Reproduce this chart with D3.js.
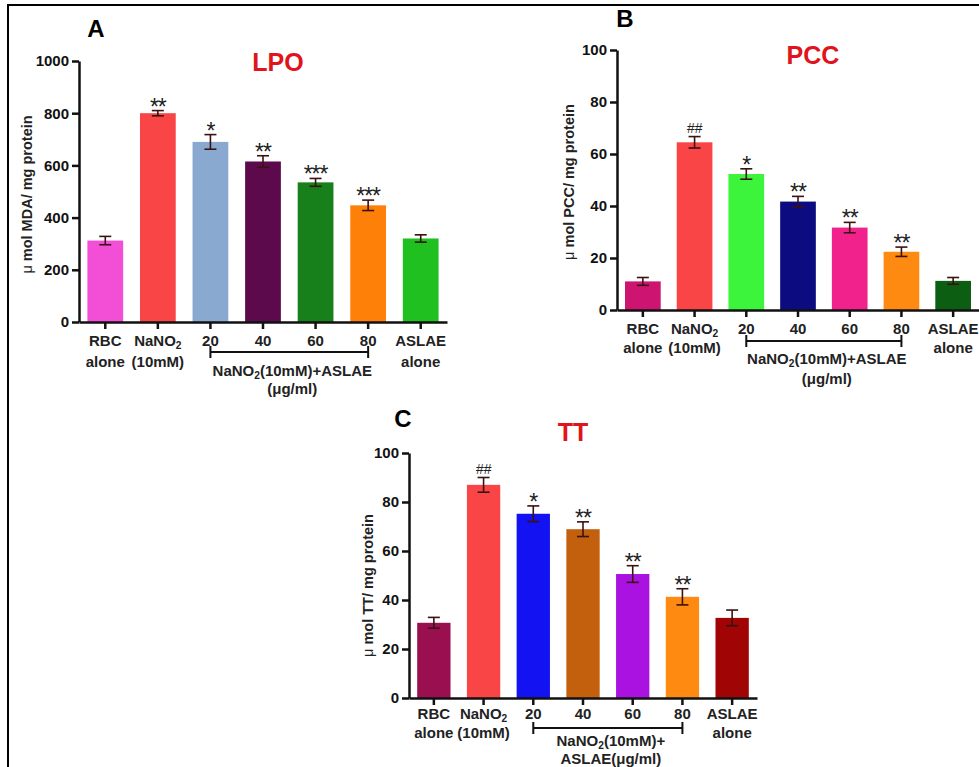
<!DOCTYPE html>
<html>
<head>
<meta charset="utf-8">
<script src="https://cdn.jsdelivr.net/npm/d3@7"></script>
<style>
  body { margin: 0; background: #fff; }
  svg { display: block; font-family: "Liberation Sans", Arial, sans-serif; }
  .axis path, .axis line { stroke: #111; stroke-width: 2.5; }
  .axis text { font-size: 15px; font-weight: bold; fill: #111; font-family: "Liberation Sans", Arial, sans-serif; }
</style>
</head>
<body>
<div id="chart"></div>
<script>
// Shared categories
const categories = ["RBC alone", "NaNO2 (10mM)", "20", "40", "60", "80", "ASLAE alone"];
const tickLines = [["RBC", "alone"], ["NaNO_2", "(10mM)"], ["20"], ["40"], ["60"], ["80"], ["ASLAE", "alone"]];

// A - LPO
const lpoValues = [312, 800, 690, 615, 535, 447, 320];
const lpoErrors = [16, 10, 28, 22, 15, 20, 14];
const lpoSig = ["", "**", "*", "**", "***", "***", ""];
const lpoColors = ["#f24fd6", "#f94545", "#8aa9d0", "#5c0a4c", "#18801a", "#ff8008", "#20c020"];
const lpoTicks = [0, 200, 400, 600, 800, 1000];

// B - PCC
const pccValues = [11, 64.5, 52.3, 41.7, 31.7, 22.4, 11.2];
const pccErrors = [1.5, 2.2, 2.0, 2.0, 2.0, 1.8, 1.3];
const pccSig = ["", "##", "*", "**", "**", "**", ""];
const pccColors = ["#cc1470", "#f94545", "#3cf43c", "#0c0c80", "#f2228c", "#ff8a12", "#0c5e12"];
const pccTicks = [0, 20, 40, 60, 80, 100];

// C - TT
const ttValues = [30.7, 87, 75.2, 68.9, 50.6, 41.3, 32.7];
const ttErrors = [2.2, 3.0, 3.2, 3.0, 3.4, 3.3, 3.2];
const ttSig = ["", "##", "*", "**", "**", "**", ""];
const ttColors = ["#9a0f50", "#f94545", "#1212f2", "#c2600e", "#aa12e2", "#ff8a12", "#a00404"];
const ttTicks = [0, 20, 40, 60, 80, 100];

const W = 979, H = 767;

const svg = d3.select("#chart").append("svg")
  .attr("width", W)
  .attr("height", H);

// frame lines (top + left only, rest is cropped)
svg.append("path")
  .attr("d", `M8,${H} L8,5 L${W},5`)
  .attr("fill", "none")
  .attr("stroke", "#000")
  .attr("stroke-width", 2);

// write "NaNO_2..." with a real subscript
function richText (sel, str, size) {
  let parts = str.split("_2");
  sel.append("tspan").text(parts[0]);
  if (parts.length > 1) {
    sel.append("tspan").text("2")
      .attr("font-size", size * 0.68)
      .attr("dy", 3);
    if (parts[1]) sel.append("tspan").text(parts[1]).attr("dy", -3);
  }
}

class BarPanel {
  constructor (args) {
    this.args = args;
    this.g = svg.append("g");
  }

  render () {
    this.computeScales();
    this.addBars();
    this.addErrorBars();
    this.addAxes();
    this.addTickLabels();
    this.addTitles();
  }

  computeScales () {
    let a = this.args;
    this.x = d3.scaleBand()
      .domain(categories)
      .range(a.xRange)
      .paddingInner(a.pad)
      .paddingOuter(a.pad / 2);

    this.y = d3.scaleLinear()
      .domain([0, d3.max(a.ticks)])
      .range(a.yRange);
  }

  cx (i) {
    return this.x(categories[i]) + this.x.bandwidth() / 2;
  }

  addBars () {
    let a = this.args;
    this.g.selectAll(".bar")
      .data(a.values)
      .enter().append("rect")
      .attr("class", "bar")
      .attr("x", (d, i) => this.x(categories[i]))
      .attr("y", (d) => this.y(d))
      .attr("width", this.x.bandwidth())
      .attr("height", (d) => this.y(0) - this.y(d))
      .attr("fill", (d, i) => a.colors[i]);
  }

  addErrorBars () {
    let a = this.args,
        cap = 6;

    let eb = this.g.selectAll(".err")
      .data(a.values)
      .enter().append("g")
      .attr("class", "err")
      .attr("stroke", "#3a1212")
      .attr("stroke-width", 1.6);

    eb.append("line")
      .attr("x1", (d, i) => this.cx(i)).attr("x2", (d, i) => this.cx(i))
      .attr("y1", (d, i) => this.y(d - a.errors[i]))
      .attr("y2", (d, i) => this.y(d + a.errors[i]));
    eb.append("line")
      .attr("x1", (d, i) => this.cx(i) - cap).attr("x2", (d, i) => this.cx(i) + cap)
      .attr("y1", (d, i) => this.y(d + a.errors[i]))
      .attr("y2", (d, i) => this.y(d + a.errors[i]));
    eb.append("line")
      .attr("x1", (d, i) => this.cx(i) - cap).attr("x2", (d, i) => this.cx(i) + cap)
      .attr("y1", (d, i) => this.y(d - a.errors[i]))
      .attr("y2", (d, i) => this.y(d - a.errors[i]));

    // significance marks, only where there is one
    let marks = a.values.map((d, i) => ({ i: i, top: d + a.errors[i], s: a.sig[i] }))
      .filter((m) => m.s.length > 0);

    this.g.selectAll(".sig")
      .data(marks)
      .enter().append("text")
      .attr("class", "sig")
      .attr("x", (m) => this.cx(m.i))
      .attr("y", (m) => this.y(m.top) + (m.s.includes("#") ? -4 : 4))
      .attr("text-anchor", "middle")
      .attr("font-size", (m) => m.s.includes("#") ? 14 : 23)
      .attr("font-style", (m) => m.s.includes("#") ? "italic" : "normal")
      .attr("letter-spacing", (m) => m.s.includes("#") ? 0 : -1)
      .attr("fill", "#222")
      .text((m) => m.s);
  }

  addAxes () {
    let a = this.args;
    this.g.append("g")
      .attr("class", "axis")
      .attr("transform", `translate(${a.xRange[0]},0)`)
      .call(d3.axisLeft(this.y)
        .tickValues(a.ticks)
        .tickFormat(d3.format("d"))
        .tickSize(7).tickPadding(3).tickSizeOuter(0));

    this.g.append("g")
      .attr("class", "axis")
      .attr("transform", `translate(0,${this.y(0)})`)
      .call(d3.axisBottom(this.x).tickSize(7).tickSizeOuter(0).tickFormat(""));
  }

  addTickLabels () {
    let a = this.args,
        y0 = this.y(0);

    categories.forEach((c, i) => {
      tickLines[i].forEach((line, j) => {
        let t = this.g.append("text")
          .attr("x", this.cx(i))
          .attr("y", y0 + a.lineY[j])
          .attr("text-anchor", "middle")
          .attr("font-size", 15)
          .attr("font-weight", "bold")
          .attr("fill", "#222");
        richText(t, line, 15);
      });
    });

    // bracket over the ASLAE doses
    let bx0 = this.cx(2),
        bx1 = this.cx(5),
        by = y0 + a.bracketY;

    this.g.append("path")
      .attr("d", `M${bx0},${by - 6}V${by + 6}M${bx0},${by}H${bx1}M${bx1},${by - 6}V${by + 6}`)
      .attr("fill", "none")
      .attr("stroke", "#111")
      .attr("stroke-width", 2);

    a.groupLines.forEach((line, j) => {
      let t = this.g.append("text")
        .attr("x", (bx0 + bx1) / 2 + 3)
        .attr("y", y0 + a.groupY[j])
        .attr("text-anchor", "middle")
        .attr("font-size", 15)
        .attr("font-weight", "bold")
        .attr("fill", "#222");
      richText(t, line, 15);
    });
  }

  addTitles () {
    let a = this.args,
        yMid = (a.yRange[0] + a.yRange[1]) / 2;

    this.g.append("text")
      .attr("x", a.letterPos[0])
      .attr("y", a.letterPos[1])
      .attr("text-anchor", "middle")
      .attr("font-size", 24)
      .attr("font-weight", "bold")
      .text(a.letter);

    this.g.append("text")
      .attr("x", a.titlePos[0])
      .attr("y", a.titlePos[1])
      .attr("text-anchor", "middle")
      .attr("font-size", 25)
      .attr("font-weight", "bold")
      .attr("fill", "#e0141c")
      .text(a.title);

    let yl = this.g.append("text")
      .attr("transform", `translate(${a.yLabelX},${yMid + a.yLabelShift}) rotate(-90)`)
      .attr("text-anchor", "middle")
      .attr("font-size", 14.5)
      .attr("fill", "#222");
    yl.append("tspan").attr("font-weight", "normal").text("\u03bc ");
    yl.append("tspan").attr("font-weight", "bold").text(a.yLabel);
  }
}

new BarPanel({
  letter: "A", title: "LPO", yLabel: "mol MDA/ mg protein",
  values: lpoValues, errors: lpoErrors, sig: lpoSig, colors: lpoColors, ticks: lpoTicks,
  xRange: [79, 447], yRange: [322, 61], pad: 0.32,
  letterPos: [96, 37], titlePos: [278, 71], yLabelX: 32, yLabelShift: 3,
  lineY: [24, 45], bracketY: 30, groupY: [54, 72],
  groupLines: ["NaNO_2(10mM)+ASLAE", "(\u03bcg/ml)"]
}).render();

new BarPanel({
  letter: "B", title: "PCC", yLabel: "mol PCC/ mg protein",
  values: pccValues, errors: pccErrors, sig: pccSig, colors: pccColors, ticks: pccTicks,
  xRange: [617, 979], yRange: [310, 50], pad: 0.31,
  letterPos: [625, 27], titlePos: [813, 64], yLabelX: 574, yLabelShift: 2,
  lineY: [24, 43], bracketY: 31, groupY: [54, 74],
  groupLines: ["NaNO_2(10mM)+ASLAE", "(\u03bcg/ml)"]
}).render();

new BarPanel({
  letter: "C", title: "TT", yLabel: "mol TT/ mg protein",
  values: ttValues, errors: ttErrors, sig: ttSig, colors: ttColors, ticks: ttTicks,
  xRange: [409, 757], yRange: [698, 453], pad: 0.33,
  letterPos: [403, 427], titlePos: [573, 441], yLabelX: 373, yLabelShift: 10,
  lineY: [21, 40], bracketY: 30, groupY: [48, 66],
  groupLines: ["NaNO_2(10mM)+", "ASLAE(\u03bcg/ml)"]
}).render();
</script>
</body>
</html>
